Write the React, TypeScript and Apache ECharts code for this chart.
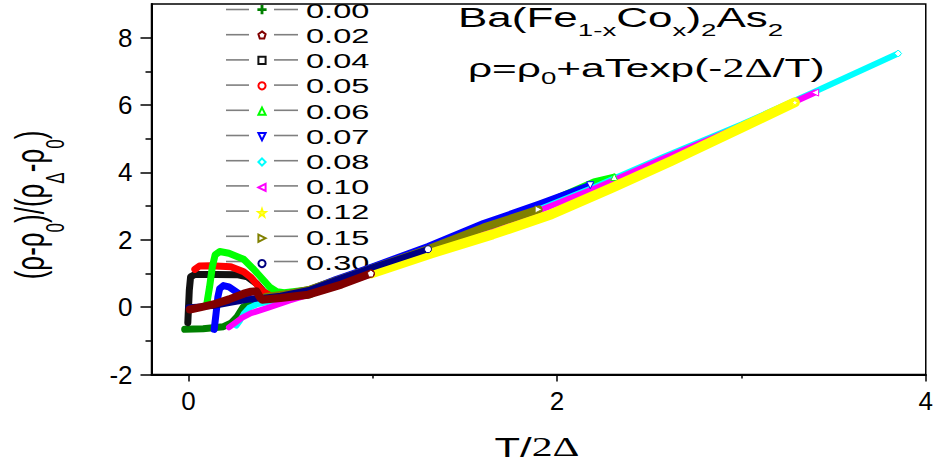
import React, { useEffect, useRef } from 'react';
import * as echarts from 'echarts';

// ---- data ----
const names = ['0.00', '0.02', '0.04', '0.05', '0.06', '0.07', '0.08', '0.10', '0.12', '0.15', '0.30'];

const x000 = [[-0.02, -0.66], [0.08, -0.64], [0.19, -0.58], [0.23, -0.48], [0.265, -0.28], [0.297, 0.0], [0.35, 0.14], [0.45, 0.24], [0.55, 0.3], [0.66, 0.37]];
const x002 = [[0.008, -0.07], [0.07, 0.0], [0.134, 0.08], [0.22, 0.23], [0.3, 0.4], [0.34, 0.46], [0.37, 0.47], [0.385, 0.32], [0.4, 0.22], [0.5, 0.27], [0.65, 0.37], [0.83, 0.67], [0.99, 1.0]];
const x004 = [[-0.003, -0.46], [0.0, -0.1], [0.005, 0.5], [0.012, 0.9], [0.035, 0.97], [0.15, 0.97], [0.27, 0.96], [0.32, 0.9], [0.37, 0.7], [0.41, 0.45], [0.45, 0.33], [0.55, 0.35]];
const x005 = [[0.035, 1.12], [0.06, 1.22], [0.12, 1.23], [0.23, 1.2], [0.3, 1.05], [0.34, 0.88], [0.38, 0.62], [0.41, 0.44], [0.45, 0.35], [0.55, 0.38]];
const x006 = [[0.1, 0.1], [0.115, 0.6], [0.13, 1.2], [0.145, 1.55], [0.17, 1.65], [0.22, 1.6], [0.3, 1.42], [0.35, 1.15], [0.39, 0.91], [0.44, 0.6], [0.48, 0.46], [0.52, 0.43], [0.66, 0.52], [0.8, 0.8], [1.0, 1.18], [1.3, 1.76], [1.6, 2.44], [1.9, 3.0], [2.2, 3.72], [2.31, 3.86]];
const x007 = [[0.14, -0.66], [0.15, -0.2], [0.16, 0.3], [0.17, 0.55], [0.19, 0.64], [0.22, 0.6], [0.26, 0.45], [0.3, 0.3], [0.35, 0.24], [0.45, 0.3], [0.66, 0.52], [0.8, 0.82], [1.0, 1.2], [1.3, 1.8], [1.6, 2.48], [1.9, 3.05], [2.18, 3.62]];
const x008 = [[0.26, -0.55], [0.28, -0.4], [0.3, -0.2], [0.33, -0.02], [0.37, 0.08], [0.45, 0.18], [0.55, 0.28], [0.66, 0.42], [1.0, 1.04], [1.3, 1.66], [1.6, 2.3], [1.9, 2.9], [2.2, 3.56], [2.57, 4.44], [3.0, 5.42], [3.4, 6.4], [3.85, 7.53]];
const x010 = [[0.22, -0.6], [0.25, -0.48], [0.29, -0.32], [0.34, -0.18], [0.43, -0.02], [0.55, 0.2], [0.66, 0.38], [1.0, 0.99], [1.3, 1.62], [1.6, 2.25], [1.9, 2.86], [2.2, 3.51], [2.57, 4.4], [3.0, 5.38], [3.4, 6.37]];
const x012 = [[0.99, 1.0], [1.32, 1.6], [1.65, 2.16], [1.97, 2.76], [2.3, 3.55], [2.62, 4.34], [3.0, 5.33], [3.29, 6.08]];
const x015 = [[0.42, 0.3], [0.55, 0.4], [0.66, 0.52], [0.8, 0.78], [1.0, 1.15], [1.3, 1.72], [1.6, 2.36], [1.9, 2.9]];
const x030 = [[0.0, 0.0], [0.07, 0.02], [0.134, 0.03], [0.22, 0.12], [0.32, 0.22], [0.42, 0.29], [0.5, 0.34], [0.66, 0.52], [0.8, 0.8], [1.0, 1.18], [1.3, 1.72]];

const seriesData = [x000, x002, x004, x005, x006, x007, x008, x010, x012, x015, x030];

const xMajor = [0, 2, 4];
const xMinor = [1, 3];
const yMajor = [-2, 0, 2, 4, 6, 8];
const yMinor = [-1, 1, 3, 5, 7];

// ---- styles ----
const FONT = '"Liberation Sans", Arial, sans-serif';
const SERIF = '"Liberation Serif", "Times New Roman", serif';
const PLUS = 'path://M4.4,0h1.2v4.4h4.4v1.2h-4.4v4.4h-1.2v-4.4h-4.4v-1.2h4.4z';
const PENT = 'path://M10,0L19.51,6.91L15.88,18.09L4.12,18.09L0.49,6.91Z';
const STAR = 'path://M10,0L12.35,6.76L19.51,6.91L13.8,11.24L15.88,18.09L10,14L4.12,18.09L6.2,11.24L0.49,6.91L7.65,6.76Z';

const looks = [
  { color: '#008000', symbol: PLUS, rotate: 0, filled: true, width: 7, end: false, z: 2 },
  { color: '#800000', symbol: PENT, rotate: 0, filled: false, width: 8, end: true, z: 4 },
  { color: '#111111', symbol: 'rect', rotate: 0, filled: false, width: 7, end: false, z: 2 },
  { color: '#ff0000', symbol: 'circle', rotate: 0, filled: false, width: 7, end: false, z: 2 },
  { color: '#00ff00', symbol: 'triangle', rotate: 0, filled: false, width: 7, end: true, z: 2 },
  { color: '#0000ff', symbol: 'triangle', rotate: 180, filled: false, width: 7, end: true, z: 2 },
  { color: '#00ffff', symbol: 'diamond', rotate: 0, filled: false, width: 6, end: true, z: 2 },
  { color: '#ff00ff', symbol: 'triangle', rotate: 90, filled: false, width: 6, end: true, z: 2 },
  { color: '#ffff00', symbol: STAR, rotate: 0, filled: false, width: 10, end: true, z: 3 },
  { color: '#808000', symbol: 'triangle', rotate: -90, filled: false, width: 8, end: true, z: 2 },
  { color: '#000080', symbol: 'circle', rotate: 0, filled: false, width: 6, end: true, z: 3 },
];

export default function App() {
  const ref = useRef<HTMLDivElement>(null);
  useEffect(() => {
    if (!ref.current) return;
    const chart = echarts.init(ref.current, null, { renderer: 'svg' });

    const series = seriesData.map((d, i) => {
      const lk = looks[i];
      const last = d.length - 1;
      return {
        type: 'line',
        name: names[i],
        data: d,
        xAxisIndex: 0,
        yAxisIndex: 0,
        z: lk.z,
        symbol: lk.symbol,
        symbolRotate: lk.rotate,
        showSymbol: true,
        symbolSize: (_v: any, p: any) => (lk.end && p.dataIndex === last ? 7 : 0),
        lineStyle: { color: lk.color, width: lk.width, cap: 'round', join: 'round' },
        itemStyle: { color: lk.filled ? lk.color : '#ffffff', borderColor: lk.color, borderWidth: 1 },
        silent: true,
        emphasis: { disabled: true },
      };
    });

    const legendRowY = (i: number) => 9.5 + 25.2 * i;

    const labelGraphics = names.map((n, i) => ({
      type: 'text',
      x: 306,
      y: legendRowY(i) + 1,
      scaleX: 1.55,
      style: { text: n, fontSize: 21, fontFamily: FONT, fill: '#000', align: 'left', verticalAlign: 'middle' },
    }));

    const legendLines: any[] = [];
    names.forEach((_n, i) => {
      const y = legendRowY(i);
      legendLines.push({ type: 'line', shape: { x1: 226, y1: y, x2: 249, y2: y }, style: { stroke: '#7f7f7f', lineWidth: 1.6 } });
      legendLines.push({ type: 'line', shape: { x1: 274, y1: y, x2: 298, y2: y }, style: { stroke: '#7f7f7f', lineWidth: 1.6 } });
    });

    const option: any = {
      animation: false,
      grid: { left: 151.5, right: 10, top: 4, bottom: 88.5, show: true, borderColor: '#000', borderWidth: 1.5, backgroundColor: 'transparent' },
      xAxis: [
        {
          type: 'value', min: -0.2, max: 4, position: 'bottom',
          axisLine: { show: true, onZero: false, lineStyle: { color: '#000', width: 2 } },
          axisTick: { show: true, length: 7, lineStyle: { color: '#000', width: 1.5 }, customValues: xMajor },
          axisLabel: { show: true, customValues: xMajor, margin: 13, fontSize: 26, color: '#000', fontFamily: FONT },
          splitLine: { show: false },
        },
        {
          type: 'value', min: -0.2, max: 4, position: 'bottom',
          axisLine: { show: false, onZero: false },
          axisTick: { show: true, length: 4, lineStyle: { color: '#000', width: 1.5 }, customValues: xMinor },
          axisLabel: { show: false },
          splitLine: { show: false },
        },
      ],
      yAxis: [
        {
          type: 'value', min: -2, max: 9, position: 'left',
          axisLine: { show: true, onZero: false, lineStyle: { color: '#000', width: 2 } },
          axisTick: { show: true, length: 11, lineStyle: { color: '#000', width: 1.5 }, customValues: yMajor },
          axisLabel: { show: true, customValues: yMajor, margin: 19, fontSize: 26, color: '#000', fontFamily: FONT },
          splitLine: { show: false },
        },
        {
          type: 'value', min: -2, max: 9, position: 'left',
          axisLine: { show: false, onZero: false },
          axisTick: { show: true, length: 6, lineStyle: { color: '#000', width: 1.5 }, customValues: yMinor },
          axisLabel: { show: false },
          splitLine: { show: false },
        },
      ],
      legend: {
        orient: 'vertical', left: 226, top: 5, padding: 0,
        itemWidth: 72, itemHeight: 9, itemGap: 16.2,
        selectedMode: false,
        formatter: () => '',
        textStyle: { fontSize: 1 },
        lineStyle: { color: '#ffffff', opacity: 0, width: 0 },
        data: names,
      },
      graphic: [
        ...legendLines,
        ...labelGraphics,
        {
          type: 'text', x: 458, y: 17.5, scaleX: 1.63,
          style: {
            text: 'Ba(Fe{s|1-x}Co{s|x}){s|2}As{s|2}', fontSize: 27, fontFamily: FONT, fill: '#000',
            align: 'left', verticalAlign: 'middle', lineHeight: 42,
            rich: { s: { fontSize: 17, fontFamily: FONT, lineHeight: 17, verticalAlign: 'bottom' } },
          },
        },
        {
          type: 'text', x: 468, y: 67.5, scaleX: 1.63,
          style: {
            text: 'ρ=ρ{s|0}+aTexp(-{se|2Δ}/T)', fontSize: 26, fontFamily: FONT, fill: '#000',
            align: 'left', verticalAlign: 'middle', lineHeight: 39,
            rich: {
              s: { fontSize: 17, fontFamily: FONT, lineHeight: 17, verticalAlign: 'bottom' },
              se: { fontSize: 27, fontFamily: SERIF, lineHeight: 39, verticalAlign: 'middle' },
            },
          },
        },
        {
          type: 'text', x: 537, y: 447, scaleX: 1.55,
          style: {
            text: 'T/{se|2Δ}', fontSize: 27, fontFamily: FONT, fill: '#000', align: 'center', verticalAlign: 'middle',
            lineHeight: 30,
            rich: { se: { fontSize: 27, fontFamily: SERIF, lineHeight: 30, verticalAlign: 'middle' } },
          },
        },
        {
          type: 'text', x: 30, y: 205, rotation: Math.PI / 2, scaleY: 1.55,
          style: {
            text: '(ρ-ρ{s|0})/(ρ{s|Δ}-ρ{s|0})', fontSize: 26, fontFamily: FONT, fill: '#000',
            align: 'center', verticalAlign: 'middle', lineHeight: 49,
            rich: { s: { fontSize: 17, fontFamily: FONT, lineHeight: 17, verticalAlign: 'bottom' } },
          },
        },
      ],
      series,
    };
    chart.setOption(option);
    return () => chart.dispose();
  }, []);
  return <div ref={ref} style={{ position: 'fixed', left: 0, top: 0, width: '936px', height: '463px', background: '#fff' }} />;
}
